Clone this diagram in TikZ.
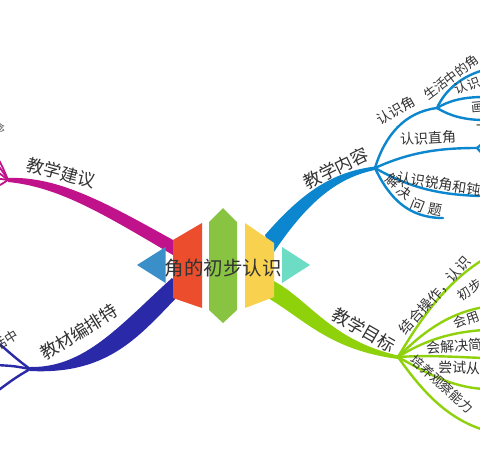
\documentclass[tikz,border=0pt]{standalone}
\usepackage{fontspec}
\newfontfamily\cjk{Noto Sans CJK SC}
\definecolor{cmag}{HTML}{C0128A}
\definecolor{cnavy}{HTML}{2A2AA8}
\definecolor{cblue}{HTML}{0B86CF}
\definecolor{cgreen}{HTML}{8FD20C}
\definecolor{ctri}{HTML}{3A8FC9}
\definecolor{cred}{HTML}{EC4D2C}
\definecolor{cgrn}{HTML}{88C442}
\definecolor{cyel}{HTML}{F8D24E}
\definecolor{cteal}{HTML}{6CDCC5}
\definecolor{txt}{HTML}{333333}
\begin{document}
\begin{tikzpicture}[x=1pt,y=-1pt,
  lbl/.style={font=\cjk\fontsize{17.5}{17.5}\selectfont, text=txt, inner sep=0pt},
  sublbl/.style={font=\cjk\fontsize{14}{14}\selectfont, text=txt, inner sep=0pt},
  leaflbl/.style={font=\cjk\fontsize{13}{13}\selectfont, text=txt, inner sep=0pt},
  twig/.style={line width=2.4pt, line cap=round},
  title/.style={font=\cjk\fontsize{19.5}{19.5}\selectfont, text=txt, inner sep=0pt}]
\useasboundingbox (0,0) rectangle (480,458);
\fill[white] (0,0) rectangle (480,458);
\clip (0,0) rectangle (480,458);

% ---------- hub coordinates ----------
\coordinate (hm) at (8,180);
\coordinate (hn) at (30,369);
\coordinate (hb) at (375,168);
\coordinate (hg) at (398,357);

% ---------- tapered main branches ----------
\fill[cmag] (8,178) .. controls (60,176) and (110,205) .. (182,245)
  -- (178,258) .. controls (105,215) and (60,187) .. (8,182) -- cycle;
\fill[cnavy] (30,367) .. controls (85,368) and (120,325) .. (172,278)
  -- (182,292) .. controls (140,335) and (110,375) .. (30,371) -- cycle;
\fill[cblue] (265,235) .. controls (300,195) and (330,172) .. (375,166.5)
  -- (375,170) .. controls (335,178) and (305,205) .. (272,255) -- cycle;
\fill[cgreen] (272,280) .. controls (310,300) and (330,340) .. (398,355.5)
  -- (398,359) .. controls (330,350) and (305,320) .. (268,298) -- cycle;

% ---------- magenta twigs ----------
\coordinate (m1) at (-6,150);
\coordinate (m2) at (-6,160);
\coordinate (m3) at (-6,169);
\coordinate (m4) at (-6,178);
\coordinate (m5) at (-6,188);
\begin{scope}[cmag, twig, line width=1.8pt]
\draw (hm) .. controls (4,170) .. (m1);
\draw (hm) .. controls (3,172) .. (m2);
\draw (hm) -- (m3);
\draw (hm) -- (m4);
\draw (hm) .. controls (2,184) .. (m5);
\end{scope}

% ---------- navy twigs ----------
\coordinate (n1) at (-4,341);
\coordinate (n2) at (-4,365);
\coordinate (n3) at (-4,392);
\begin{scope}[cnavy, twig]
\draw (hn) .. controls (18,360) .. (n1);
\draw (hn) .. controls (14,366) .. (n2);
\draw (hn) .. controls (15,378) .. (n3);
\end{scope}

% ---------- blue twigs ----------
\coordinate (b1) at (437,108);
\coordinate (b2) at (477,148);
\coordinate (b3) at (482,196);
\coordinate (b4) at (443,218);
\coordinate (b11) at (484,70);
\coordinate (b12) at (484,97);
\coordinate (b13) at (484,120);
\coordinate (b21) at (484,140);
\coordinate (b22) at (484,156);
\begin{scope}[cblue, twig]
\draw (hb) .. controls (385,135) and (405,112) .. (b1);
\draw (hb) .. controls (410,152) and (440,148) .. (b2);
\draw (hb) .. controls (410,188) and (440,195) .. (b3);
\draw (hb) .. controls (390,200) and (410,218) .. (b4);
\draw (b1) .. controls (445,90) and (462,76) .. (b11);
\draw (b1) .. controls (450,100) and (465,97) .. (b12);
\draw (b1) .. controls (450,116) and (465,120) .. (b13);
\draw (b2) .. controls (480,146) .. (b21);
\draw (b2) .. controls (480,151) .. (b22);
\end{scope}

% ---------- green twigs ----------
\coordinate (g1) at (484,259);
\coordinate (g2) at (484,307);
\coordinate (g3) at (484,330);
\coordinate (g4) at (484,358);
\coordinate (g5) at (484,389);
\coordinate (g6) at (484,430);
\begin{scope}[cgreen, twig]
\draw (hg) .. controls (420,320) and (445,283) .. (g1);
\draw (hg) .. controls (425,330) and (450,313) .. (g2);
\draw (hg) .. controls (425,340) and (452,332) .. (g3);
\draw (hg) .. controls (430,355) and (455,357) .. (g4);
\draw (hg) .. controls (425,372) and (450,387) .. (g5);
\draw (hg) .. controls (420,388) and (445,418) .. (g6);
\end{scope}

% ---------- central emblem ----------
\fill[ctri] (137,265) -- (165.5,247) -- (165.5,283) -- cycle;
\fill[cred] (173,240) -- (202,223) -- (202,308) -- (173,298) -- cycle;
\fill[cgrn] (209,222) -- (223,208) -- (237,222) -- (237,310) -- (223,323) -- (209,310) -- cycle;
\fill[cyel] (245,223) -- (274,243) -- (274,297) -- (245,308) -- cycle;
\fill[cteal] (282,247) -- (310,265) -- (282,283) -- cycle;
\node[title] (t0) at (223,268) {角的初步认识};

% ---------- main labels ----------
\node[lbl, rotate=-15] (lm) at (61,173) {教学建议};
\node[lbl, rotate=32] (ln) at (79,332) {教材编排特};
\node[lbl, rotate=26] (lb) at (336,168) {教学内容};
\node[lbl, rotate=-30] (lg) at (364,330) {教学目标};

% ---------- blue sub labels ----------
\node[sublbl, rotate=30] (sb1) at (396,110) {认识角};
\node[sublbl, rotate=3] (sb2) at (428,138) {认识直角};
\node[sublbl, rotate=-9, anchor=west] (sb3) at (397,177) {认识锐角和钝};
\node[sublbl, rotate=-40] (sb4a) at (393,181) {解};
\node[sublbl, rotate=-35] (sb4b) at (404,192) {决};
\node[sublbl, rotate=-22] (sb4c) at (418,205) {问};
\node[sublbl, rotate=-10] (sb4d) at (435,210) {题};
\node[leaflbl, rotate=37, anchor=west] (lf1) at (425,97) {生活中的角};
\node[leaflbl, rotate=20, anchor=west] (lf2) at (455,90) {认识};
\node[leaflbl, rotate=5, anchor=west] (lf3) at (471,108) {画};
\node[leaflbl, anchor=west] (lf4) at (476,128) {一};

% ---------- green sub labels ----------
\node[sublbl, rotate=48, anchor=west] (sg1) at (402,332) {结合操作，认识};
\node[leaflbl, rotate=33, anchor=west] (sg2) at (459,297) {初步};
\node[leaflbl, rotate=20, anchor=west] (sg3) at (454,324) {会用};
\node[sublbl, rotate=4, anchor=west] (sg4) at (426,348) {会解决简};
\node[sublbl, rotate=-2, anchor=west] (sg5) at (438,367) {尝试从};
\node[leaflbl, rotate=-42, anchor=west] (sg6) at (413,358) {培养观察能力};

% ---------- clipped fragments at the left edge ----------
\node[leaflbl, rotate=32, anchor=east] (fn) at (17,333) {活中};
\node[font=\cjk\fontsize{9}{9}\selectfont, text=txt, inner sep=0pt, anchor=east] (fm) at (5,128) {念};
\end{tikzpicture}
\end{document}
